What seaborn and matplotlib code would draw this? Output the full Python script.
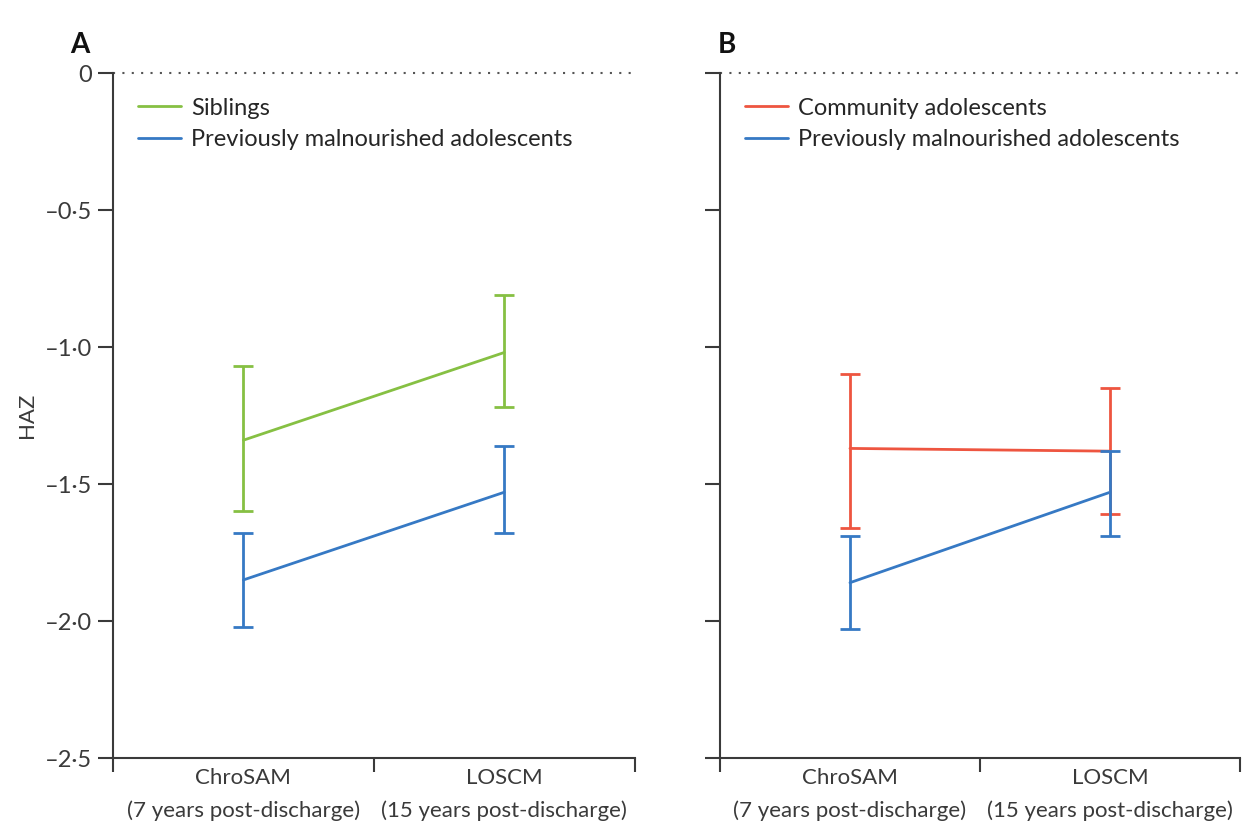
import numpy as np
import pandas as pd
import matplotlib
matplotlib.use("Agg")
import matplotlib.pyplot as plt
from matplotlib.lines import Line2D
import seaborn as sns

# Timepoints (x categories)
categories = ["ChroSAM\n(7 years post-discharge)", "LOSCM\n(15 years post-discharge)"]

# Panel A: siblings vs previously malnourished
sib_mean = [-1.34, -1.02]
sib_low = [-1.60, -1.22]
sib_high = [-1.07, -0.81]
pm_a_mean = [-1.85, -1.53]
pm_a_low = [-2.02, -1.68]
pm_a_high = [-1.68, -1.36]

# Panel B: community adolescents vs previously malnourished
com_mean = [-1.37, -1.38]
com_low = [-1.66, -1.61]
com_high = [-1.10, -1.15]
pm_b_mean = [-1.86, -1.53]
pm_b_low = [-2.03, -1.69]
pm_b_high = [-1.69, -1.38]

yticks = [0, -0.5, -1.0, -1.5, -2.0, -2.5]
ytick_labels = ["0", "–0·5", "–1·0", "–1·5", "–2·0", "–2·5"]

GREEN = "#86c043"
BLUE = "#3679c4"
RED = "#ee5540"
AXC = "#3a3a3a"

sns.set_style("ticks")
plt.rcParams["font.family"] = ["Lato", "DejaVu Sans"]

fig = plt.figure(figsize=(12.48, 8.31), dpi=100)
axA = fig.add_axes([0.0905, 0.0878, 0.418, 0.8243])
axB = fig.add_axes([0.5769, 0.0878, 0.4167, 0.8243])

x = np.arange(len(categories))


def draw_panel(ax, series, show_ylabels):
    rows = []
    for name, color, mean, low, high in series:
        for i in range(len(categories)):
            rows.append({"pos": x[i], "HAZ": mean[i], "group": name})
    df = pd.DataFrame(rows)
    palette = {s[0]: s[1] for s in series}
    sns.lineplot(data=df, x="pos", y="HAZ", hue="group", palette=palette,
                 linewidth=2, legend=False, ax=ax)
    for name, color, mean, low, high in series:
        mean = np.array(mean)
        yerr = [mean - np.array(low), np.array(high) - mean]
        ax.errorbar(x, mean, yerr=yerr, fmt="none", ecolor=color,
                    elinewidth=2, capsize=7, capthick=2)

    ax.axhline(0, color="#555555", linestyle=(0, (1, 3.5)), linewidth=1.5,
               clip_on=False)
    ax.set_xlim(-0.5, 1.5)
    ax.set_ylim(-2.5, 0)

    ax.set_xticks([-0.5, 0.5, 1.5])
    ax.set_xticklabels([])
    ax.set_xticks(x, minor=True)
    ax.set_xticklabels(categories, minor=True, fontsize=16, color=AXC,
                       linespacing=1.75)
    ax.tick_params(axis="x", which="major", length=10, width=1.5,
                   color=AXC, direction="out")
    ax.tick_params(axis="x", which="minor", length=0, pad=7)

    ax.set_yticks(yticks)
    if show_ylabels:
        ax.set_yticklabels(ytick_labels, fontsize=17, color=AXC)
    else:
        ax.set_yticklabels([])
    ax.tick_params(axis="y", length=11, width=1.5, color=AXC, pad=4)

    sns.despine(ax=ax)
    for sp in ("left", "bottom"):
        ax.spines[sp].set_color(AXC)
        ax.spines[sp].set_linewidth(1.5)

    ax.set_xlabel("")
    ax.set_ylabel("")

    handles = [Line2D([0], [0], color=s[1], linewidth=2) for s in series]
    ax.legend(handles, [s[0] for s in series], loc="upper left",
              bbox_to_anchor=(0.03, 0.978), frameon=False, fontsize=17,
              handlelength=1.8, handletextpad=0.45, labelspacing=0.45,
              borderaxespad=0)


draw_panel(axA, [("Siblings", GREEN, sib_mean, sib_low, sib_high),
                 ("Previously malnourished adolescents", BLUE,
                  pm_a_mean, pm_a_low, pm_a_high)], True)
draw_panel(axB, [("Community adolescents", RED, com_mean, com_low, com_high),
                 ("Previously malnourished adolescents", BLUE,
                  pm_b_mean, pm_b_low, pm_b_high)], False)

axA.set_ylabel("HAZ", fontsize=16, color=AXC, labelpad=6)

fig.text(70 / 1248, 1 - 45 / 831, "A", fontsize=20, fontweight="bold",
         va="center", ha="left", color="#111111")
fig.text(718 / 1248, 1 - 45 / 831, "B", fontsize=20, fontweight="bold",
         va="center", ha="left", color="#111111")

fig.savefig("out.png", dpi=100)
